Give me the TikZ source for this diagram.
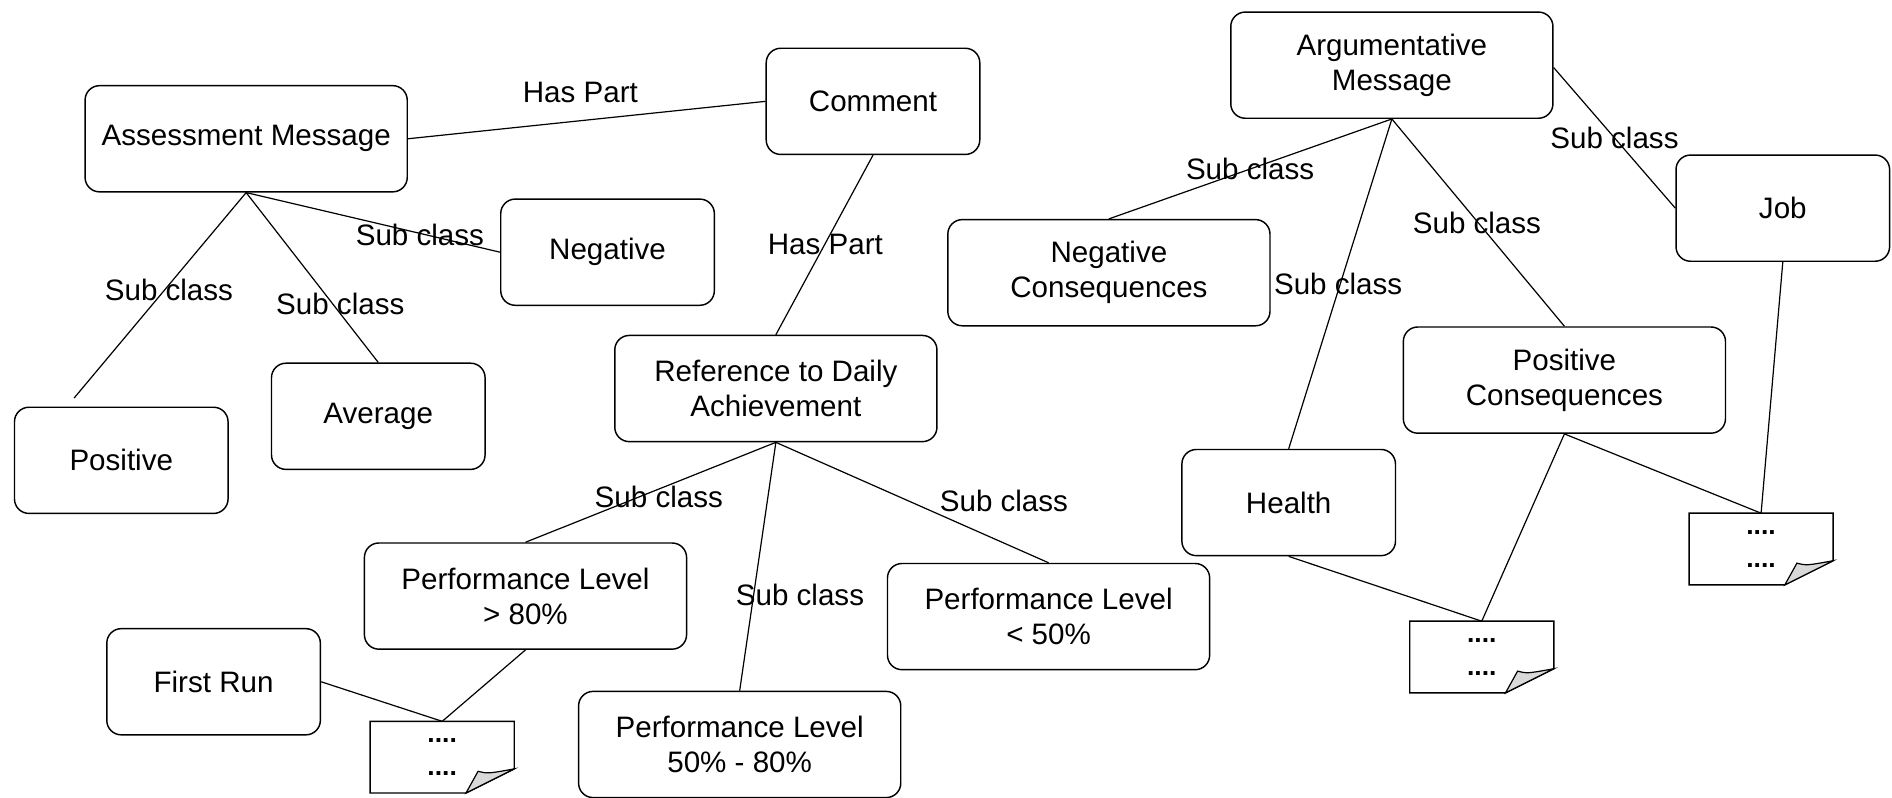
\documentclass[tikz,border=0pt]{standalone}
\usepackage{fontspec}
\setmainfont{Liberation Sans}
\newcommand\drawnote[1]{%
  \draw[notebd] (#1.north west) -- (#1.north east) -- ([yshift=20pt]#1.south east) -- ([xshift=-40pt]#1.south east) -- (#1.south west) -- cycle;
  \filldraw[fill=gray!30, line width=1pt] ([xshift=-40pt]#1.south east) -- ([xshift=-30pt,yshift=18pt]#1.south east) .. controls ([xshift=-22pt,yshift=16pt]#1.south east) .. ([yshift=20pt]#1.south east) -- cycle;
}
\begin{document}
\begin{tikzpicture}[x=1pt,y=-1pt,
  every node/.style={font=\fontsize{24.5}{29}\selectfont},
  box/.style={draw, rounded corners=12pt, line width=1.2pt, minimum width=177pt, minimum height=88pt, align=center, inner sep=0pt},
  wbox/.style={box, minimum width=267pt},
  lab/.style={inner sep=0pt},
  conn/.style={line width=1pt},
  notebd/.style={line width=1.2pt},
  note/.style={minimum width=119pt, minimum height=59pt, inner sep=0pt, align=center, font=\fontsize{22}{27}\selectfont\bfseries}
]
\useasboundingbox (0,0) rectangle (1568,661);

% boxes
\node[wbox] (am) at (204,115) {Assessment Message};
\node[box] (cm) at (723.5,84) {Comment};
\node[box] (ng) at (503.5,209) {Negative};
\node[box] (po) at (100.5,381.5) {Positive};
\node[box] (av) at (313.5,345) {Average};
\node[wbox] (rf) at (643,322) {Reference to Daily\\Achievement};
\node[wbox] (p1) at (435.5,494) {Performance Level\\> 80\%};
\node[box] (fr) at (177,565) {First Run};
\node[wbox] (p2) at (613,617) {Performance Level\\50\% - 80\%};
\node[wbox] (p3) at (869,511) {Performance Level\\< 50\%};
\node[wbox] (ar) at (1153.5,54) {Argumentative\\Message};
\node[wbox] (nc) at (919,226) {Negative\\Consequences};
\node[box] (jb) at (1477.5,172.5) {Job};
\node[wbox] (pc) at (1296.5,315) {Positive\\Consequences};
\node[box] (he) at (1068,416.5) {Health};

% notes
\node[note] (n1) at (366.5,627.5) {....\\....};
\node[note] (n2) at (1228,544.5) {....\\....};
\node[note] (n3) at (1459.5,455) {....\\....};
\drawnote{n1}
\drawnote{n2}
\drawnote{n3}

% connectors
\draw[conn] (am.east) -- (cm.west);
\draw[conn] (am.south) -- ([xshift=50pt,yshift=7pt]po.north west);
\draw[conn] (am.south) -- (av.north);
\draw[conn] (am.south) -- (ng.west);
\draw[conn] (cm.south) -- (rf.north);
\draw[conn] (rf.south) -- (p1.north);
\draw[conn] (rf.south) -- (p2.north);
\draw[conn] (rf.south) -- (p3.north);
\draw[conn] (p1.south) -- (n1.north);
\draw[conn] (fr.east) -- (n1.north);
\draw[conn] (ar.south) -- (nc.north);
\draw[conn] (ar.south) -- (he.north);
\draw[conn] (ar.south) -- (pc.north);
\draw[conn] ([yshift=-2pt]ar.east) -- (jb.west);
\draw[conn] (he.south) -- (n2.north);
\draw[conn] (pc.south) -- (n2.north);
\draw[conn] (pc.south) -- (n3.north);
\draw[conn] (jb.south) -- (n3.north);

% labels
\node[lab] (l1) at (481,77) {Has Part};
\node[lab] (l2) at (140,240) {Sub class};
\node[lab] (l3) at (282,252) {Sub class};
\node[lab] (l4) at (348,195) {Sub class};
\node[lab] (l5) at (684,203) {Has Part};
\node[lab] (l6) at (546,412) {Sub class};
\node[lab] (l7) at (663,493) {Sub class};
\node[lab] (l8) at (832,415) {Sub class};
\node[lab] (l9) at (1036,140) {Sub class};
\node[lab] (l10) at (1109,235) {Sub class};
\node[lab] (l11) at (1224,185) {Sub class};
\node[lab] (l12) at (1338,114) {Sub class};
\end{tikzpicture}
\end{document}
